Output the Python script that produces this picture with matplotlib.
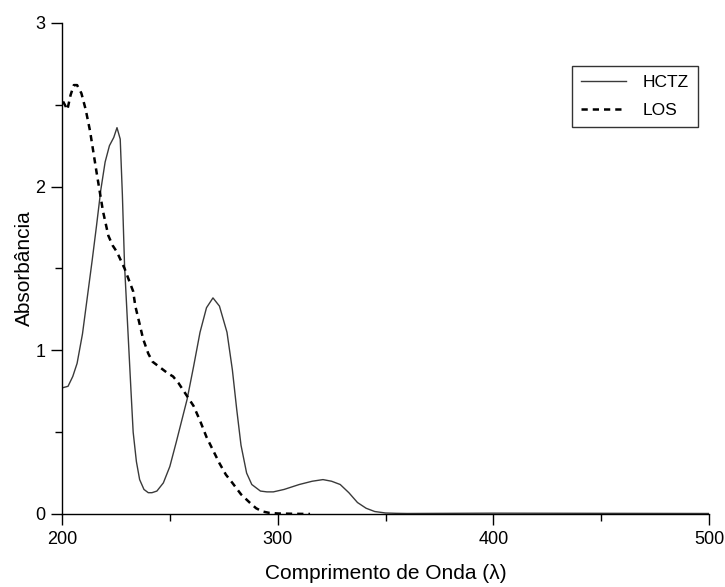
import matplotlib.pyplot as plt
from matplotlib.ticker import MultipleLocator

plt.rcParams['font.family'] = ['Liberation Sans', 'DejaVu Sans']

# Espectros de absorção UV
hctz_lambda = [200, 202.8, 205, 207, 209.5, 211.6, 214, 216, 218, 220, 222, 224, 225.5,
               227, 228, 229, 230.6, 232, 233, 234.5, 236, 238, 240, 241.7, 244, 247,
               250, 253, 255.5, 258, 261, 264, 267, 270, 273, 276.5, 279, 281, 283,
               285.6, 288, 292, 295, 298, 303, 310, 316, 321, 325, 329, 333, 337, 341,
               345, 350, 355, 360, 400, 450, 500]
hctz_abs = [0.77, 0.78, 0.84, 0.92, 1.10, 1.31, 1.55, 1.76, 1.98, 2.15, 2.25, 2.30, 2.36,
            2.29, 1.95, 1.52, 1.11, 0.75, 0.50, 0.32, 0.21, 0.15, 0.13, 0.13, 0.14, 0.19,
            0.29, 0.44, 0.57, 0.70, 0.90, 1.11, 1.26, 1.32, 1.27, 1.11, 0.88, 0.64, 0.42,
            0.25, 0.18, 0.14, 0.135, 0.135, 0.15, 0.18, 0.20, 0.21, 0.20, 0.18, 0.13,
            0.07, 0.035, 0.015, 0.006, 0.004, 0.003, 0.005, 0.004, 0.003]

los_lambda = [200.5, 202.5, 204, 205.5, 207, 209, 211, 213, 216, 219, 221.5, 223.5, 225.5,
              229, 233, 234, 236, 237.6, 240, 242, 245, 247, 249, 251.5, 254, 256, 258.5,
              261, 264, 267, 270, 273, 276, 279, 283, 287, 290, 293, 296, 300, 308, 315]
los_abs = [2.52, 2.47, 2.56, 2.62, 2.62, 2.57, 2.47, 2.34, 2.09, 1.85, 1.70, 1.64, 1.60,
           1.50, 1.36, 1.27, 1.16, 1.07, 0.98, 0.93, 0.90, 0.88, 0.86, 0.84, 0.80, 0.76,
           0.71, 0.66, 0.57, 0.47, 0.39, 0.31, 0.24, 0.19, 0.12, 0.07, 0.035, 0.015,
           0.007, 0.003, 0.001, 0.0]

fig = plt.figure(figsize=(7.25, 5.87), dpi=100)
ax = fig.add_axes([0.0855, 0.1244, 0.8925, 0.8366])

ax.plot(hctz_lambda, hctz_abs, color='#3a3a3a', lw=1.0, label='HCTZ')
ax.plot(los_lambda, los_abs, color='black', lw=1.8, ls=(0, (2.5, 2)), label='LOS')

ax.set_xlim(200, 500)
ax.set_ylim(0, 3)
ax.xaxis.set_major_locator(MultipleLocator(100))
ax.xaxis.set_minor_locator(MultipleLocator(50))
ax.yaxis.set_major_locator(MultipleLocator(1))
ax.yaxis.set_minor_locator(MultipleLocator(0.5))

for lado in ['top', 'right']:
    ax.spines[lado].set_visible(False)
for lado in ['left', 'bottom']:
    ax.spines[lado].set_linewidth(1.0)

ax.tick_params(which='major', direction='out', length=8, width=1, labelsize=13, pad=4)
ax.tick_params(which='minor', direction='out', length=5, width=1)

ax.set_xlabel('Comprimento de Onda (λ)', fontsize=15, labelpad=12)
ax.set_ylabel('Absorbância', fontsize=15, labelpad=1)

leg = ax.legend(loc='upper left', bbox_to_anchor=(0.788, 0.912), borderaxespad=0,
                fontsize=12.5, frameon=True, fancybox=False, edgecolor='black',
                handlelength=2.6, borderpad=0.5, labelspacing=0.75, handletextpad=1.0)
leg.get_frame().set_linewidth(1.0)

fig.savefig('out.png', dpi=100, facecolor='white')
